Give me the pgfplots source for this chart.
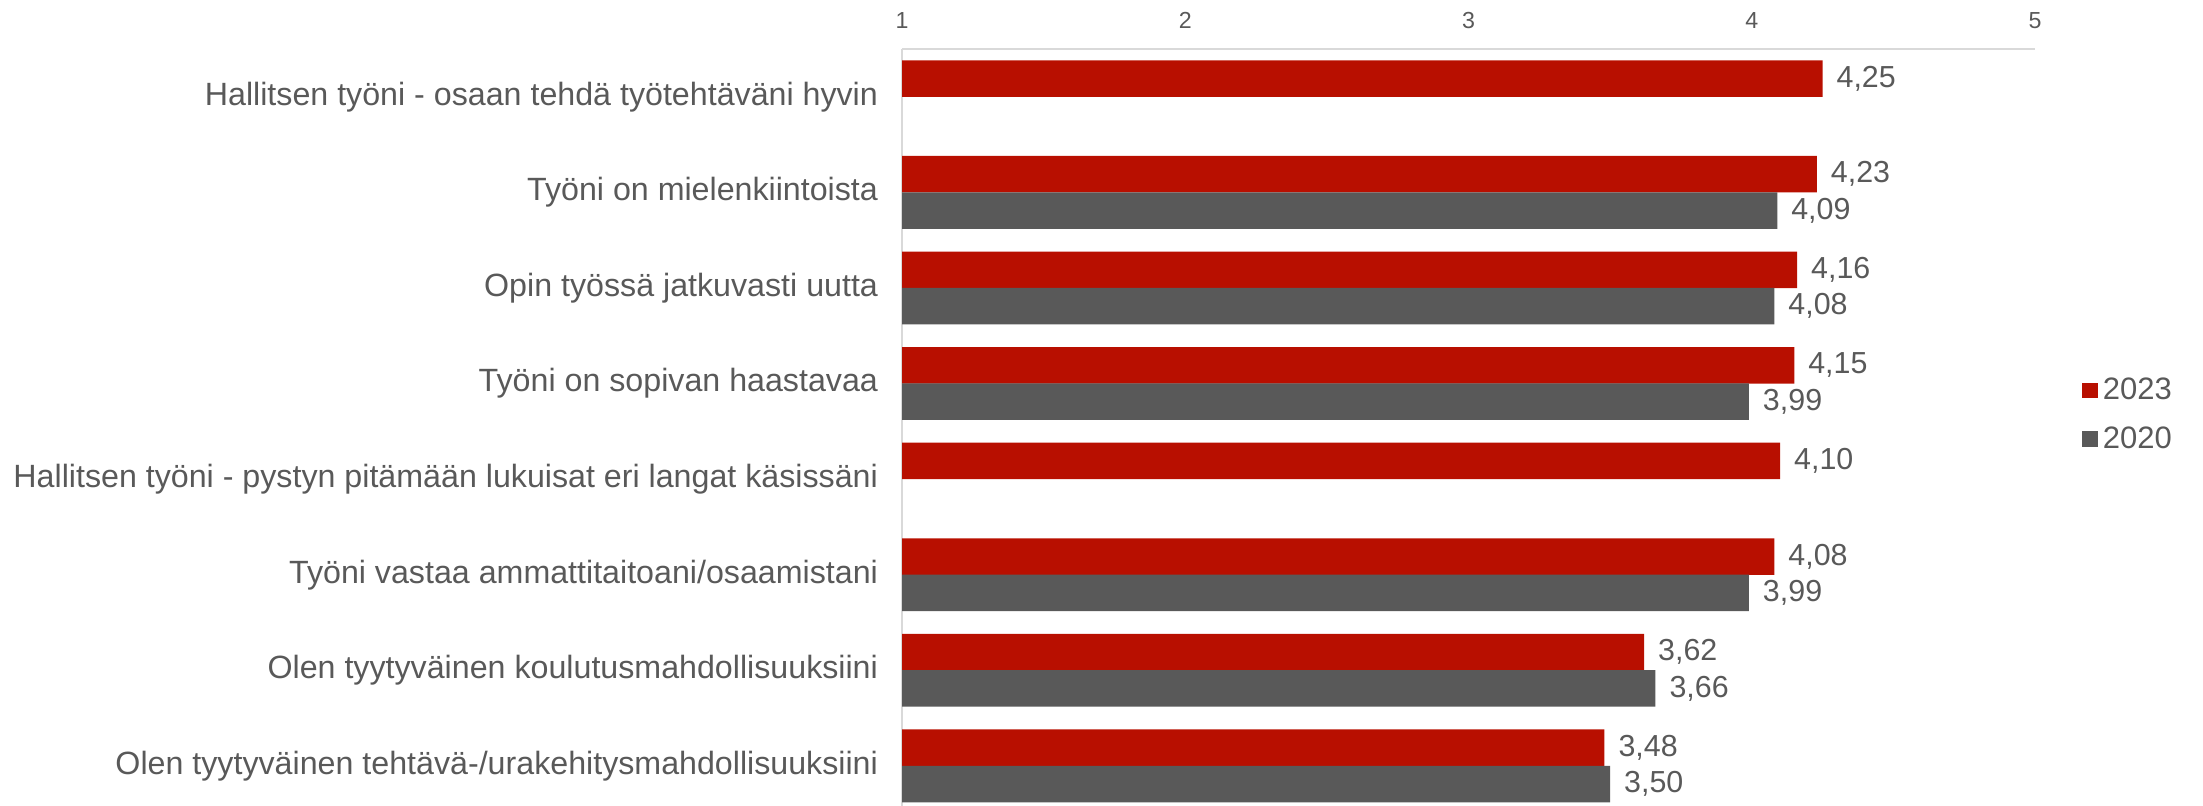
\documentclass[border=0pt]{standalone}
\usepackage{fontspec}
\setmainfont{Liberation Sans}
\usepackage{pgfplots}
\pgfplotsset{compat=1.18}
\definecolor{cred}{RGB}{184,15,0}
\definecolor{cgray}{RGB}{89,89,89}
\definecolor{ctext}{RGB}{89,89,89}
\definecolor{cline}{RGB}{217,217,217}
\begin{document}
\begin{tikzpicture}[x=1pt,y=1pt]
\useasboundingbox (0,0) rectangle (1101.5,403);
\begin{axis}[
  at={(451pt,0pt)}, anchor=south west,
  width=566.5pt, height=378.5pt, scale only axis,
  xbar, bar width=18.25pt, bar shift=0pt,
  xmin=1, xmax=5, ymin=-0.5, ymax=7.42, y dir=reverse,
  axis x line*=top, axis y line*=left,
  axis line style={cline, line width=1pt},
  xtick={1,2,3,4,5}, xticklabels={1,2,3,4,5}, major tick length=0pt,
  xticklabel style={font=\fontsize{11.6}{13}\selectfont, text=ctext, yshift=6.5pt},
  ytick={0,1,2,3,4,5,6,7},
  yticklabels={Hallitsen työni - osaan tehdä työtehtäväni hyvin,
    Työni on mielenkiintoista,
    Opin työssä jatkuvasti uutta,
    Työni on sopivan haastavaa,
    Hallitsen työni - pystyn pitämään lukuisat eri langat käsissäni,
    Työni vastaa ammattitaitoani/osaamistani,
    Olen tyytyväinen koulutusmahdollisuuksiini,
    Olen tyytyväinen tehtävä-/urakehitysmahdollisuuksiini},
  yticklabel style={font=\fontsize{16.1}{19}\selectfont, text=ctext, xshift=-8.5pt},
  /pgf/number format/.cd, fixed, fixed zerofill, precision=2, use comma, assume math mode=true,
  /pgfplots/.cd,
  nodes near coords,
  nodes near coords style={font=\fontsize{15.2}{18}\selectfont, text=ctext, anchor=west, xshift=3.5pt},
  legend image code/.code={\fill[#1] (0pt,-3.9pt) rectangle (7.8pt,3.9pt);},
  legend style={at={(1.036,0.5166)}, anchor=west, draw=none, fill=none,
    font=\fontsize{15.5}{18}\selectfont, text=ctext, row sep=7pt,
    nodes={inner sep=2.5pt}},
  legend cell align=left,
]
\addplot[fill=cred, draw=none] coordinates {
  (4.25,-0.19) (4.23,0.81) (4.16,1.81) (4.15,2.81)
  (4.10,3.81) (4.08,4.81) (3.62,5.81) (3.48,6.81)};
\addplot[fill=cgray, draw=none] coordinates {
  (4.09,1.19) (4.08,2.19) (3.99,3.19)
  (3.99,5.19) (3.66,6.19) (3.50,7.19)};
\legend{2023,2020}
\end{axis}
\end{tikzpicture}
\end{document}
